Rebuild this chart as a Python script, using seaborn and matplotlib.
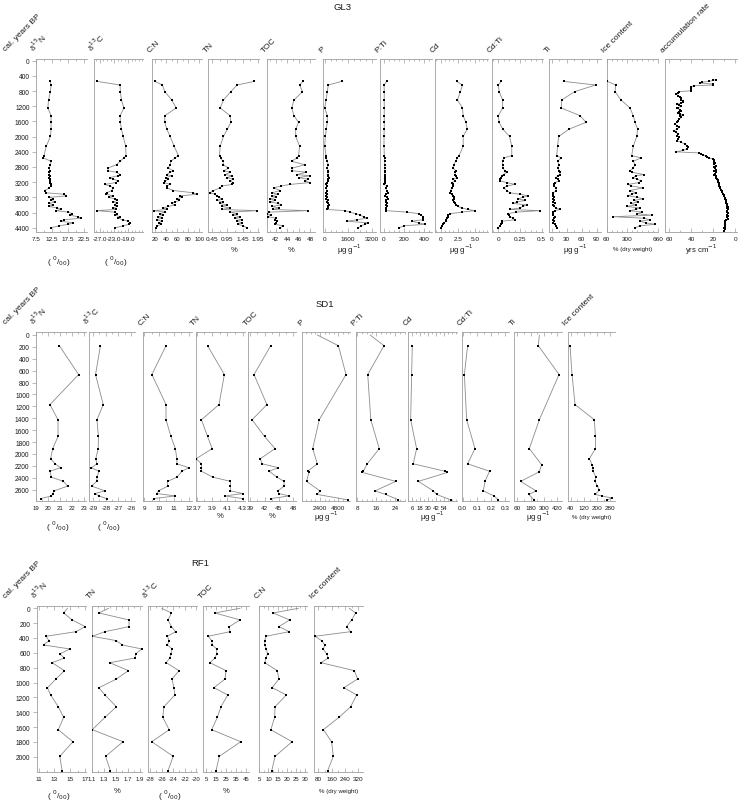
import matplotlib
matplotlib.use("Agg")
import matplotlib.pyplot as plt
from matplotlib.ticker import AutoMinorLocator, MultipleLocator
import seaborn as sns

# ---------------- GL3 ----------------
gl3_age = [545, 640, 815, 1035, 1245, 1450, 1625, 1800, 1995, 2255,
           2500, 2560, 2650, 2740, 2830, 2900, 2940, 3000, 3030, 3080,
           3120, 3170, 3210, 3260, 3300, 3350, 3420, 3480, 3520, 3560,
           3600, 3640, 3680, 3720, 3760, 3800, 3840, 3880, 3920, 3950,
           3990, 4030, 4070, 4110, 4150, 4190, 4230, 4270, 4310, 4350,
           4400]
gl3_d15n = [12.0, 12.2, 12.0, 11.4, 11.2, 12.2, 12.2, 12.2, 12.0, 10.7,
            10.0, 9.8, 12.2, 12.0, 11.7, 11.8, 11.7, 11.7, 11.8, 11.7,
            11.8, 11.9, 12.0, 12.2, 12.1, 11.7, 10.2, 10.7, 16.3, 17.0,
            11.7, 12.9, 12.2, 13.5, 11.7, 12.7, 11.5, 14.2, 15.2, 13.7,
            17.6, 18.8, 18.1, 20.5, 21.5, 16.1, 15.2, 19.1, 17.6, 14.7,
            12.2]
gl3_d13c = [-27.8, -21.3, -21.2, -20.9, -20.2, -21.3, -21.2, -20.9, -20.4, -19.7,
            -19.6, -20.2, -21.3, -22.3, -24.8, -24.6, -22.3, -21.3, -21.8, -24.2,
            -23.2, -21.8, -22.5, -25.6, -24.2, -23.2, -23.7, -25.1, -25.3, -23.2,
            -24.4, -22.8, -22.1, -23.2, -22.3, -22.8, -22.1, -23.2, -22.5, -27.9,
            -22.8, -22.3, -22.8, -21.2, -21.8, -20.6, -19.0, -18.5, -18.7, -20.4,
            -22.6]
gl3_cn = [19.4, 32.7, 37.0, 49.7, 57.6, 37.0, 37.0, 40.6, 46.7, 54.0,
          61.8, 55.8, 47.9, 46.7, 43.6, 52.7, 46.7, 40.6, 49.7, 39.4,
          43.6, 37.6, 35.8, 46.7, 40.6, 40.6, 52.7, 89.0, 95.0, 64.8,
          67.9, 58.8, 63.6, 55.8, 49.7, 55.8, 43.6, 34.5, 40.6, 17.6,
          37.6, 28.5, 34.5, 25.5, 31.5, 22.4, 31.5, 27.3, 30.3, 23.6,
          21.2]
gl3_tn = [1.83, 1.27, 1.06, 0.82, 0.71, 1.04, 1.06, 0.95, 0.82, 0.71,
          0.69, 0.73, 0.80, 0.82, 0.98, 0.84, 1.04, 0.88, 1.10, 0.95,
          1.14, 1.04, 1.14, 1.10, 0.77, 0.71, 0.49, 0.38, 0.54, 0.60,
          0.66, 0.77, 0.60, 0.82, 0.71, 0.93, 0.77, 1.04, 0.77, 1.94,
          1.04, 1.25, 1.14, 1.36, 1.19, 1.42, 1.27, 1.42, 1.30, 1.47,
          1.58]
gl3_toc = [46.8, 46.2, 46.7, 45.2, 44.8, 45.2, 46.0, 45.5, 45.5, 46.2,
           46.0, 45.7, 44.8, 47.1, 44.9, 44.9, 47.4, 45.7, 48.0, 46.0,
           47.7, 47.1, 48.0, 44.5, 43.0, 41.6, 42.8, 41.3, 42.4, 41.3,
           42.1, 41.0, 41.9, 40.9, 42.4, 43.0, 41.3, 42.5, 41.5, 47.7,
           40.8, 40.5, 41.1, 40.6, 42.0, 41.8, 42.2, 42.0, 41.8, 43.3,
           42.8]
gl3_p = [1156, 245, 177, 88, 0, 177, 177, 110, 40, 0,
         88, 110, 177, 245, 177, 245, 200, 245, 245, 315,
         245, 200, 177, 110, 177, 90, 177, 90, 177, 110,
         177, 110, 200, 177, 245, 315, 245, 200, 180, 1400,
         1700, 2100, 2400, 2650, 2856, 2200, 1496, 2965, 2740, 2500,
         2285]
gl3_pti = [27, 0, 3, 2, 3, 2, 3, 2, 0, 0,
           3, 5, 6, 8, 6, 10, 8, 10, 12, 10,
           8, 12, 10, 0, 33, 15, 27, 43, 20, 5,
           27, 35, 15, 20, 30, 18, 25, 20, 22, 20,
           230, 350, 370, 390, 390, 390, 277, 350, 410, 200,
           153]
gl3_cd = [2.35, 3.2, 2.9, 2.45, 3.2, 3.3, 3.7, 3.9, 3.3, 3.3,
          2.7, 2.4, 2.2, 1.9, 1.8, 2.25, 2.15, 2.1, 2.2, 2.35,
          1.86, 2.1, 1.65, 1.8, 1.86, 1.6, 1.45, 1.37, 1.6, 1.8,
          2.0, 1.95, 1.86, 2.0, 2.1, 2.3, 2.5, 3.1, 4.0, 5.0,
          3.1, 1.4, 1.1, 1.0, 0.95, 0.85, 0.75, 0.55, 0.38, 0.2,
          0.0]
gl3_cdti = [0.03, 0.0, 0.01, 0.05, 0.05, 0.0, 0.01, 0.05, 0.13, 0.155,
            0.155, 0.06, 0.05, 0.05, 0.055, 0.075, 0.095, 0.06, 0.04, 0.03,
            0.02, 0.02, 0.1, 0.19, 0.1, 0.06, 0.1, 0.134, 0.25, 0.345,
            0.28, 0.23, 0.307, 0.22, 0.173, 0.326, 0.28, 0.25, 0.13, 0.48,
            0.2, 0.115, 0.12, 0.134, 0.17, 0.19, 0.04, 0.04, 0.03, 0.02,
            0.0]
gl3_ti = [24, 88, 46, 20, 19, 57, 69, 35, 14, 11.5,
          10, 19, 12, 14, 12, 15, 17, 16, 12, 9,
          12, 14, 7, 3.5, 5, 8, 9, 3, 1.5, 3,
          4, 2, 4, 3, 6, 3, 5, 8, 16, 6,
          2, 1.5, 3, 6, 5, 2, 4, 3, 6, 9,
          10]
gl3_ice = [67, 166, 158, 228, 334, 373, 393, 425, 413, 373,
           354, 463, 373, 393, 373, 334, 360, 499, 400, 373,
           420, 463, 440, 314, 350, 487, 334, 400, 360, 314,
           420, 487, 380, 430, 350, 400, 295, 452, 400, 334,
           480, 420, 589, 138, 500, 569, 450, 520, 628, 450,
           393]

acc_age = [500, 520, 545, 565, 590, 615, 640, 660, 700, 745,
           790, 815, 850, 880, 920, 960, 995, 1030, 1055, 1090,
           1115, 1140, 1175, 1205, 1235, 1255, 1290, 1320, 1350, 1380,
           1410, 1435, 1465, 1495, 1540, 1580, 1625, 1670, 1710, 1755,
           1800, 1845, 1890, 1930, 1975, 2020, 2065, 2110, 2150, 2195,
           2240, 2285, 2330, 2365, 2400, 2430, 2460, 2485, 2510, 2530,
           2560, 2590, 2625, 2660, 2695, 2730, 2765, 2800, 2835, 2870,
           2905, 2940, 2975, 3010, 3045, 3080, 3115, 3150, 3185, 3220,
           3255, 3290, 3325, 3360, 3395, 3430, 3465, 3500, 3535, 3570,
           3605, 3640, 3675, 3710, 3745, 3780, 3815, 3850, 3885, 3920,
           3955, 3990, 4025, 4060, 4095, 4130, 4165, 4200, 4235, 4270,
           4305, 4340, 4375, 4410, 4445, 4480]
acc_rate = [18, 20, 24, 30, 32, 20, 20, 38, 40, 40,
            40, 51, 52, 54, 52, 50, 49, 49, 48, 48,
            49, 53, 51, 49, 52, 53, 50, 49, 51, 52,
            50, 48, 50, 49, 51, 52, 53, 55, 53, 51,
            53, 56, 54, 52, 53, 51, 52, 53, 49, 46,
            44, 43, 44, 48, 54, 33, 31, 29, 27, 26,
            24, 20, 19, 19.5, 18.5, 19, 18, 19, 18.5, 18,
            19, 18, 18.5, 19, 17.5, 18, 17, 16, 15.5, 15,
            14.5, 15, 14, 13.5, 13, 12.5, 12, 11, 10.5, 10,
            9.5, 9, 8.5, 8, 8, 7.5, 7.5, 7, 7.5, 7,
            7.5, 7.5, 7, 7.5, 7, 7.5, 7, 8, 9.5, 9,
            9.5, 9, 9.5, 10, 9.5, 10]

# ---------------- SD1 ----------------
sd1_age = [180, 665, 1170, 1425, 1705, 1910, 2080, 2165, 2230, 2290,
           2390, 2460, 2540, 2620, 2665, 2705, 2750]
sd1_d15n = [20.96, 22.58, 20.17, 20.85, 20.85, 20.4, 20.23, 20.6, 21.07, 20.17,
            20.3, 21.3, 21.66, 20.5, 20.4, 20.3, 19.4]
sd1_d13c = [-28.42, -28.81, -28.2, -28.7, -28.58, -28.6, -28.79, -28.7, -29.13, -28.55,
            -28.68, -28.73, -29.1, -28.07, -28.87, -28.52, -27.94]
sd1_cn = [10.47, 9.52, 10.47, 10.47, 10.8, 11.1, 11.2, 11.2, 12.0, 11.55,
          11.2, 10.58, 10.58, 9.97, 9.86, 11.1, 9.63]
sd1_tn = [3.84, 4.06, 3.99, 3.76, 3.84, 3.9, 3.69, 3.76, 3.76, 3.76,
          3.91, 4.14, 4.14, 4.14, 4.3, 4.07, 4.3]
sd1_toc = [43.3, 39.8, 42.5, 39.4, 42.0, 44.2, 41.1, 41.5, 44.9, 43.0,
           44.6, 46.1, 46.1, 44.8, 45.0, 47.2, 43.3]
sd1_age_p = [0, 180, 665, 1425, 1910, 2165, 2290, 2310, 2460, 2620, 2680, 2770]
sd1_p = [2050, 4800, 5800, 2300, 1450, 2050, 800, 950, 650, 2400, 2050, 6000]
sd1_pti = [13.4, 19.3, 12.4, 13.7, 17.3, 12.2, 10.5, 10.1, 24.3, 15.5, 20.0, 25.4]
sd1_age_cd = [180, 665, 1425, 1910, 2165, 2290, 2310, 2460, 2620, 2680, 2770]
sd1_cd = [6, 5, 3.5, 12.6, 7.5, 56, 59.6, 15.2, 38, 43, 64.6]
sd1_age_cdti = [180, 665, 1425, 1910, 2165, 2290, 2460, 2620, 2705, 2770]
sd1_cdti = [0.035, 0.012, 0.028, 0.087, 0.035, 0.19, 0.158, 0.146, 0.222, 0.252]
sd1_age_ti = [0, 180, 665, 1425, 1910, 2180, 2300, 2460, 2620, 2680, 2770]
sd1_ti = [258, 249, 435, 258, 168, 279, 258, 90, 228, 165, 210]
sd1_age_ice = [180, 665, 1170, 1425, 1705, 1910, 2080, 2180, 2230, 2290,
               2390, 2460, 2540, 2610, 2680, 2705, 2740, 2775]
sd1_ice = [36, 48, 66.5, 184.5, 190.6, 190.6, 154, 170, 174, 178,
           192.6, 188.6, 203, 215, 188.6, 229, 290, 260]

# ---------------- RF1 ----------------
rf1_age = [0, 63, 157, 247, 315, 377, 436, 494, 548, 616, 670,
           733, 840, 953, 1070, 1168, 1326, 1470, 1636, 1798, 1995, 2189]
rf1_d15n = [14.7, 14.2, 15.3, 17.0, 15.8, 11.9, 12.3, 11.6, 15.0, 13.7, 14.3,
            12.7, 14.3, 13.2, 12.1, 12.5, 13.5, 14.2, 13.5, 15.4, 13.7, 14.0]
rf1_tn = [1.38, 1.22, 1.72, 1.72, 1.32, 1.11, 1.51, 1.61, 1.93, 1.83, 1.82,
          1.40, 1.71, 1.51, 1.22, 1.32, 1.51, 1.32, 1.11, 1.62, 1.33, 1.41]
rf1_d13c = [-26.0, -24.3, -24.9, -24.3, -23.6, -25.0, -24.7, -25.0, -24.2, -24.4, -24.6,
            -25.2, -23.0, -24.2, -23.9, -23.7, -25.6, -25.8, -24.7, -27.7, -24.0, -24.9]
rf1_toc = [39, 14, 39, 28.3, 29, 7.3, 10.7, 11.3, 15.7, 15.7, 14,
           9, 25, 24, 13, 26.7, 20, 16.3, 10.7, 39.7, 18.3, 15]
rf1_cn = [26.4, 12.5, 21.6, 15.7, 21.4, 8.6, 8.0, 8.0, 8.9, 9.5, 8.6,
          8.0, 14.8, 15.7, 12.1, 19.8, 13.6, 13.4, 11.3, 22.9, 13.6, 11.8]
rf1_ice = [266, 304, 280, 250, 274, 60, 100, 120, 110, 130, 140,
           96, 296, 316, 234, 310, 274, 204, 110, 160, 170, 136]

D15N = "δ$^{15}$N"
D13C = "δ$^{13}$C"
PERMIL = "( $^{0}$/$_{00}$)"
UG = "µg g$^{-1}$"
DRY = "% (dry weight)"

# name, ages, values, xlim, ticks, tick labels, unit
gl3_panels = [
    (D15N, gl3_age, gl3_d15n, (7.5, 23.5), [7.5, 12.5, 17.5, 22.5], ["7.5", "12.5", "17.5", "22.5"], PERMIL),
    (D13C, gl3_age, gl3_d13c, (-28.6, -14.7), [-27, -23, -19], ["-27.0", "-23.0", "-19.0"], PERMIL),
    ("C:N", gl3_age, gl3_cn, (13.3, 104), [20, 40, 60, 80, 100], ["20", "40", "60", "80", "100"], None),
    ("TN", gl3_age, gl3_tn, (0.32, 2.0), [0.45, 0.95, 1.45, 1.95], ["0.45", "0.95", "1.45", "1.95"], "%"),
    ("TOC", gl3_age, gl3_toc, (40.4, 48.9), [42, 44, 46, 48], ["42", "44", "46", "48"], "%"),
    ("P", gl3_age, gl3_p, (-95, 3490), [0, 1600, 3200], ["0", "1600", "3200"], UG),
    ("P:Ti", gl3_age, gl3_pti, (-40, 475), [0, 200, 400], ["0", "200", "400"], None),
    ("Cd", gl3_age, gl3_cd, (-0.84, 6.95), [0, 2.5, 5.0], ["0", "2.5", "5.0"], UG),
    ("Cd:Ti", gl3_age, gl3_cdti, (-0.069, 0.518), [0, 0.25, 0.5], ["0", "0.25", "0.5"], None),
    ("Ti", gl3_age, gl3_ti, (-5, 98), [0, 30, 60, 90], ["0", "30", "60", "90"], UG),
    ("Ice content", gl3_age, gl3_ice, (60, 660), [60, 300, 660], ["60", "300", "660"], DRY),
    ("accumulation rate", acc_age, acc_rate, (64, -1.3), [60, 40, 20, 0], ["60", "40", "20", "0"], "yrs cm$^{-1}$"),
]
sd1_panels = [
    (D15N, sd1_age, sd1_d15n, (19, 23.2), [19, 20, 21, 22, 23], ["19", "20", "21", "22", "23"], PERMIL),
    (D13C, sd1_age, sd1_d13c, (-29.3, -25.7), [-29, -28, -27, -26], ["-29", "-28", "-27", "-26"], PERMIL),
    ("C:N", sd1_age, sd1_cn, (8.9, 12.2), [9, 10, 11, 12], ["9", "10", "11", "12"], None),
    ("TN", sd1_age, sd1_tn, (3.685, 4.33), [3.7, 3.9, 4.1, 4.3], ["3.7", "3.9", "4.1", "4.3"], "%"),
    ("TOC", sd1_age, sd1_toc, (38.6, 48.6), [39, 42, 45, 48], ["39", "42", "45", "48"], "%"),
    ("P", sd1_age_p, sd1_p, (90, 6320), [2400, 4800], ["2400", "4800"], UG),
    ("P:Ti", sd1_age_p, sd1_pti, (7.3, 28.2), [8, 16, 24], ["8", "16", "24"], None),
    ("Cd", sd1_age_cd, sd1_cd, (-0.1, 73.8), [6, 18, 30, 42, 54], ["6", "18", "30", "42", "54"], UG),
    ("Cd:Ti", sd1_age_cdti, sd1_cdti, (-0.007, 0.33), [0.0, 0.1, 0.2, 0.3], ["0.0", "0.1", "0.2", "0.3"], None),
    ("Ti", sd1_age_ti, sd1_ti, (33, 459), [60, 180, 300, 420], ["60", "180", "300", "420"], UG),
    ("Ice content", sd1_age_ice, sd1_ice, (21.7, 310), [40, 120, 200, 280], ["40", "120", "200", "280"], DRY),
]
rf1_panels = [
    (D15N, rf1_age, rf1_d15n, (10.7, 17.1), [11, 13, 15, 17], ["11", "13", "15", "17"], PERMIL),
    ("TN", rf1_age, rf1_tn, (1.1, 1.93), [1.1, 1.3, 1.5, 1.7, 1.9], ["1.1", "1.3", "1.5", "1.7", "1.9"], "%"),
    (D13C, rf1_age, rf1_d13c, (-28.4, -19.9), [-28, -26, -24, -22, -20], ["-28", "-26", "-24", "-22", "-20"], PERMIL),
    ("TOC", rf1_age, rf1_toc, (2.3, 48.3), [5, 15, 25, 35, 45], ["5", "15", "25", "35", "45"], "%"),
    ("C:N", rf1_age, rf1_cn, (5, 30.9), [5, 10, 15, 20, 25, 30], ["5", "10", "15", "20", "25", "30"], None),
    ("Ice content", rf1_age, rf1_ice, (56, 350), [80, 160, 240, 320], ["80", "160", "240", "320"], DRY),
]

# layout in pixels: panel x-extents, top/bottom of the axes, age limits, y ticks
gl3_x = [(36, 87.3), (94.3, 143.3), (151.7, 201.7), (208.3, 259.3), (266.7, 315), (323.3, 376),
         (380, 431.5), (435, 488), (492.3, 543.3), (549.3, 600.5), (606.7, 657.7), (665, 736.7)]
sd1_x = [(36, 86), (89.3, 135), (142.7, 191.7), (195.7, 245), (248.3, 296), (302.3, 350),
         (355.7, 405), (408.3, 456.7), (461.7, 509.3), (514.3, 561.7), (567.7, 615)]
rf1_x = [(36.7, 86), (91.7, 141.7), (147.7, 197), (203.3, 249.3), (259.3, 306.7), (314.3, 363.3)]

sns.set_style("white")
plt.rcParams["font.family"] = ["Liberation Sans", "DejaVu Sans"]
plt.rcParams["mathtext.fontset"] = "dejavusans"
plt.rcParams["axes.unicode_minus"] = False

W, H = 738, 803
fig = plt.figure(figsize=(W / 100, H / 100), dpi=100)

AXC = "0.62"
TXT = "0.1"


def ftext(x, y, s, **kw):
    kw.setdefault("color", TXT)
    fig.text(x / W, 1 - y / H, s, **kw)


def draw_core(name, title_xy, panels, xs, ytop, ybot, ylim, yticks, unit_y, permil_y):
    ftext(title_xy[0], title_xy[1], name, fontsize=6.8, ha="center", va="center")
    ftext(7, ytop - 7, "cal. years BP", fontsize=6, rotation=45,
          rotation_mode="anchor", ha="left", va="bottom")
    for i, ((label, age, val, xlim, ticks, tlabels, unit), (x0, x1)) in enumerate(zip(panels, xs)):
        ax = fig.add_axes([x0 / W, 1 - ybot / H, (x1 - x0) / W, (ybot - ytop) / H])
        acc = label == "accumulation rate"
        sns.lineplot(x=val, y=age, sort=False, estimator=None, color="0.55",
                     linewidth=0.6, ax=ax)
        mx = [v for v, a in zip(val, age) if a > 0]
        my = [a for a in age if a > 0]
        sns.scatterplot(x=mx, y=my, marker="s", s=4.5 if acc else 2.2, color="k",
                        linewidth=0, ax=ax, zorder=3)
        ax.set_xlim(*xlim)
        ax.set_ylim(*ylim)
        ax.set_xticks(ticks)
        ax.set_xticklabels(tlabels)
        if label == "Ice content" and name == "GL3":
            ax.xaxis.set_minor_locator(MultipleLocator(60))
        else:
            ax.xaxis.set_minor_locator(AutoMinorLocator(4 if len(ticks) <= 3 else 2))
        ax.tick_params(axis="x", which="both", top=True, bottom=True, direction="in",
                       length=2.6, width=0.5, color=AXC,
                       labelsize=4.3 if len(ticks) >= 5 else 4.6,
                       labelcolor=TXT, pad=3)
        ax.tick_params(axis="x", which="minor", length=1.6)
        if i == 0:
            ax.set_yticks(yticks)
            ax.set_yticklabels([str(t) for t in yticks])
            ax.tick_params(axis="y", left=True, direction="out", length=2.6, width=0.5,
                           color=AXC, labelsize=4.8, labelcolor=TXT, pad=2)
        else:
            ax.set_yticks([])
        for s in ("top", "bottom", "left"):
            ax.spines[s].set_color(AXC)
            ax.spines[s].set_linewidth(0.6)
        ax.spines["right"].set_visible(False)
        ax.set_xlabel("")
        ax.set_ylabel("")
        ax.patch.set_alpha(0)
        ftext(x0 - 1, ytop - 6, label, fontsize=6, rotation=45,
              rotation_mode="anchor", ha="left", va="bottom")
        if unit:
            cx = (x0 + x1) / 2
            if unit == PERMIL:
                ftext(cx - 3, permil_y, unit, fontsize=6, ha="center", va="center")
            elif unit == DRY:
                ftext(cx, unit_y, unit, fontsize=4.4, ha="center", va="center")
            else:
                ftext(cx, unit_y, unit, fontsize=5.6, ha="center", va="center")


draw_core("GL3", (343, 8), gl3_panels, gl3_x, 60, 233, (4513, -45),
          list(range(0, 4401, 400)), 250, 262)
draw_core("SD1", (325, 305), sd1_panels, sd1_x, 333, 501.7, (2785, -50),
          list(range(0, 2601, 200)), 517, 527)
draw_core("RF1", (200, 563), rf1_panels, rf1_x, 606.7, 773.3, (2210, -35),
          list(range(0, 2001, 200)), 792, 796)

fig.savefig("out.png", dpi=100)
